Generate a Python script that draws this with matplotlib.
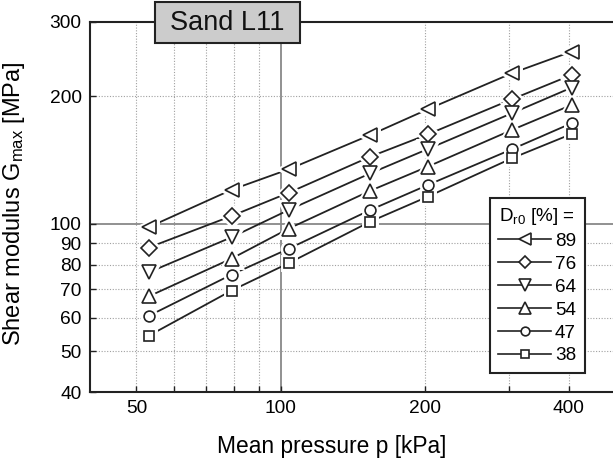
import numpy as np
import matplotlib
matplotlib.use('Agg')
import matplotlib.pyplot as plt
from matplotlib.lines import Line2D
from matplotlib.patches import Rectangle
from matplotlib.ticker import FixedLocator, NullFormatter, FixedFormatter

plt.rcParams['font.family'] = ['Liberation Sans', 'DejaVu Sans']
plt.rcParams['mathtext.fontset'] = 'custom'
plt.rcParams['mathtext.rm'] = 'Liberation Sans'
plt.rcParams['mathtext.it'] = 'Liberation Sans:italic'

# mean pressure p [kPa] and Gmax [MPa] per relative density
pressure = [53, 79, 104, 154, 203, 304, 405]
dr_labels = ['89', '76', '64', '54', '47', '38']
g89 = [98.1, 120.3, 134.5, 162.2, 186.5, 226.9, 255.3]
g76 = [87.8, 104.3, 118.4, 144.1, 162.7, 196.9, 224.8]
g64 = [76.7, 92.9, 107.8, 131.6, 150.2, 182.5, 209.8]
g54 = [67.3, 82.7, 97.4, 119.7, 136.5, 166.6, 190.9]
g47 = [60.5, 75.8, 87.3, 107.8, 123.5, 150.0, 172.8]
g38 = [54.3, 69.5, 80.7, 101.2, 115.9, 142.8, 163.0]
series = [g89, g76, g64, g54, g47, g38]

x_major = [50, 100, 200, 400]
x_minor = [60, 70, 80, 90, 300]
y_ticks = [40, 50, 60, 70, 80, 90, 100, 200, 300]

markers = ['<', 'D', 'v', '^', 'o', 's']
msizes = [10.5, 8, 10.5, 10.5, 7.8, 7.6]
ink = '#222222'

fig = plt.figure(figsize=(6.13, 4.58), dpi=100)
ax = fig.add_axes([0.1468, 0.1441, 0.857, 0.8079])
ax.set_xscale('log')
ax.set_yscale('log')
ax.set_xlim(40, 500)
ax.set_ylim(40, 300)

# grid: dotted everywhere, solid at 100 on both axes
for xv in x_major + x_minor:
    if xv == 100:
        ax.axvline(xv, color='#888888', lw=1.3, zorder=1)
    else:
        ax.axvline(xv, color='#a0a0a0', lw=0.8, ls=(0, (1, 1.5)), zorder=1)
for yv in y_ticks:
    if yv == 100:
        ax.axhline(yv, color='#888888', lw=1.3, zorder=1)
    elif yv not in (40, 300):
        ax.axhline(yv, color='#a0a0a0', lw=0.8, ls=(0, (1, 1.5)), zorder=1)

for g, m, ms in zip(series, markers, msizes):
    ax.plot(pressure, g, color=ink, lw=1.3, zorder=2)
    # white halo leaves a small gap between line and marker
    ax.plot(pressure, g, ls='none', marker=m, ms=ms, mfc='white',
            mec='white', mew=5, zorder=3)
    ax.plot(pressure, g, ls='none', marker=m, ms=ms, mfc='white',
            mec=ink, mew=1.2, zorder=4)

ax.xaxis.set_major_locator(FixedLocator(x_major))
ax.xaxis.set_major_formatter(FixedFormatter([str(v) for v in x_major]))
ax.xaxis.set_minor_locator(FixedLocator(x_minor))
ax.xaxis.set_minor_formatter(NullFormatter())
ax.yaxis.set_major_locator(FixedLocator(y_ticks))
ax.yaxis.set_major_formatter(FixedFormatter([str(v) for v in y_ticks]))
ax.yaxis.set_minor_locator(FixedLocator([]))
ax.tick_params(which='both', direction='in', length=4, width=1.0,
               color=ink, labelsize=13.8, pad=6)

for sp in ax.spines.values():
    sp.set_linewidth(1.5)
    sp.set_color(ink)
    sp.set_zorder(5)

ax.set_xlabel('Mean pressure p [kPa]', fontsize=16.4)
ax.xaxis.set_label_coords(0.461, -0.115)
ax.set_ylabel('Shear modulus G$_{\\mathrm{max}}$ [MPa]', fontsize=17)
ax.yaxis.set_label_coords(-0.12, 0.51)

# title box sitting on the top spine
ax.add_patch(Rectangle((0.1237, 0.943), 0.276, 0.111, transform=ax.transAxes,
                       facecolor='#cccccc', edgecolor=ink, lw=1.5,
                       clip_on=False, zorder=6))
ax.text(0.2617, 0.998, 'Sand L11', transform=ax.transAxes, fontsize=19.5,
        ha='center', va='center', color='#111111', zorder=7)

handles = [Line2D([], [], color=ink, lw=1.2, marker=m, ms=ms * 0.8,
                  mfc='white', mec=ink, mew=1.2)
           for m, ms in zip(markers, msizes)]
leg = ax.legend(handles, dr_labels, title='D$_{\\mathrm{r0}}$ [%] =',
                loc='lower right', bbox_to_anchor=(0.942, 0.0514),
                borderaxespad=0, fontsize=13.6, title_fontsize=13.6,
                frameon=True, fancybox=False, framealpha=1,
                edgecolor=ink, facecolor='white', handlelength=2.8,
                handletextpad=0.2, labelspacing=0.3, borderpad=0.45)
leg.get_frame().set_linewidth(1.5)
leg.set_zorder(8)

fig.savefig('out.png', dpi=100)
